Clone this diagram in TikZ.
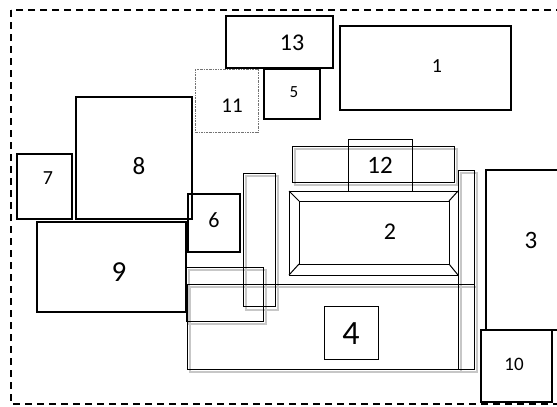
\documentclass[tikz,border=0pt]{standalone}
\usepackage{fontspec}
\setmainfont{Carlito}
\tikzset{
  thickbox/.style={draw=black, line width=1.8pt},
  thinbox/.style={draw=black, line width=1pt},
  shadowbox/.style={draw=black!22, line width=1.6pt},
  lbl/.style={inner sep=0pt, text=black},
}
\newcommand{\fs}[1]{\fontsize{#1}{#1}\selectfont}
\begin{document}
\begin{tikzpicture}[x=1pt,y=-1pt]
\useasboundingbox (0,0) rectangle (557,407);
\fill[white] (0,0) rectangle (557,407);
\begin{scope}
\clip (0,0) rectangle (557,407);
% dashed border
\draw[line width=1.8pt, dash pattern=on 7pt off 5pt] (11,10) rectangle (565,404);
% shadows
\draw[shadowbox] (295,149) rectangle (457,185);
\draw[shadowbox] (246,176) rectangle (278,310);
\draw[shadowbox] (189,270) rectangle (266,324);
\draw[shadowbox] (461,173) rectangle (477,372);
\draw[shadowbox] (190,287) rectangle (477,372);
% thin shapes
\draw[thinbox] (187,284) rectangle (474,369);
\draw[thinbox] (186,267) rectangle (263,321);
\draw[thinbox] (243,173) rectangle (275,306);
\draw[thinbox] (458,170) rectangle (474,369);
\draw[thinbox] (292,146) rectangle (454,182);
\draw[thinbox] (348,139) rectangle (412,191);
\draw[thinbox] (324,306) rectangle (378,359);
% box 2 bevel
\draw[thinbox] (289,191) rectangle (458,275);
\draw[thinbox] (299,201) rectangle (449,264);
\draw[thinbox] (289,191) -- (299,201);
\draw[thinbox] (458,191) -- (449,201);
\draw[thinbox] (289,275) -- (299,264);
\draw[thinbox] (458,275) -- (449,264);
% dotted 11
\draw[black!55, line width=0.7pt, dash pattern=on 2pt off 1pt on 0.6pt off 1pt] (195,69) rectangle (258,132);
% thick boxes
\draw[thickbox] (226,16) rectangle (333,68);
\draw[thickbox] (340,26) rectangle (511,110);
\draw[thickbox] (264,69) rectangle (320,119);
\draw[thickbox] (76,97) rectangle (192,219);
\draw[thickbox] (17,154) rectangle (72,219);
\draw[thickbox] (37,222) rectangle (186,312);
\draw[thickbox] (188,194) rectangle (240,252);
\draw[thickbox] (486,170) rectangle (568,330);
\draw[thickbox] (481,330) rectangle (552,402);
\end{scope}
% labels
\node[lbl] (n13) at (292,43) {\fs{24}13};
\node[lbl] (n1) at (437,66) {\fs{20}1};
\node[lbl] (n5) at (294,92) {\fs{17}5};
\node[lbl] (n11) at (232,106) {\fs{21}11};
\node[lbl] (n8) at (139,166) {\fs{25}8};
\node[lbl] (n7) at (48,178) {\fs{20}7};
\node[lbl] (n9) at (119,272) {\fs{29}9};
\node[lbl] (n6) at (214,220) {\fs{22}6};
\node[lbl] (n12) at (380,165) {\fs{25}12};
\node[lbl] (n2) at (390,232) {\fs{24}2};
\node[lbl] (n4) at (351,334) {\fs{34}4};
\node[lbl] (n3) at (531,240) {\fs{25}3};
\node[lbl] (n10) at (514,364) {\fs{19}10};
\end{tikzpicture}
\end{document}
